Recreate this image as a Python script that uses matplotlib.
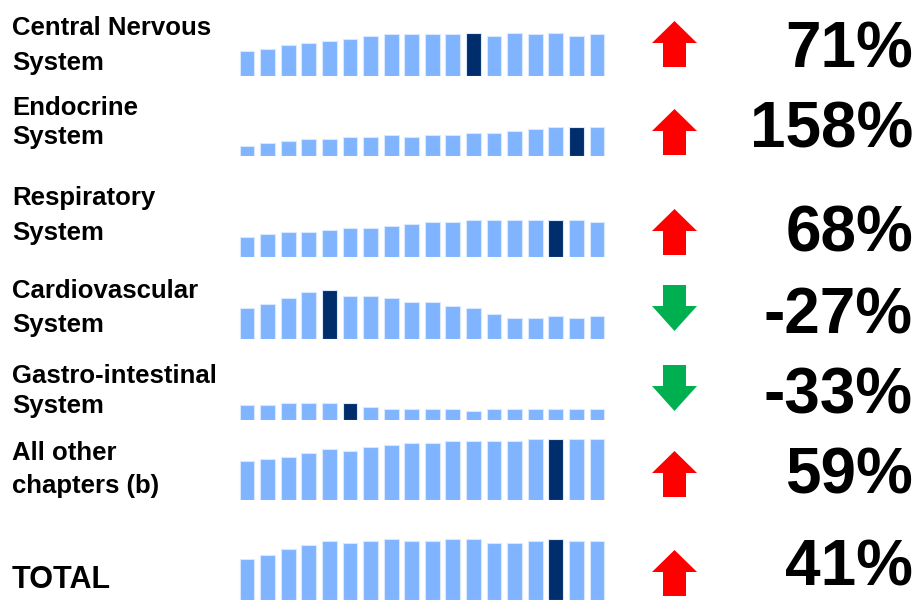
import matplotlib
matplotlib.use("Agg")
import matplotlib.pyplot as plt
import numpy as np
from matplotlib.patches import Polygon

plt.rcParams['font.family'] = ['Liberation Sans', 'DejaVu Sans']

# categories and results
categories = [["Central Nervous", "System"],
              ["Endocrine", "System"],
              ["Respiratory", "System"],
              ["Cardiovascular", "System"],
              ["Gastro-intestinal", "System"],
              ["All other", "chapters (b)"],
              ["TOTAL"]]
changes = [71, 158, 68, -27, -33, 59, 41]

# sparkline values (18 years each)
cns = [24.7, 26.7, 31, 32.7, 35, 37, 39.3, 41.3, 41.3, 41.3, 41.3, 43, 39.3, 43, 41.3, 43, 39.3, 41.3]
endocrine = [10.3, 12.7, 14.7, 17, 17, 18.7, 18.7, 20.7, 18.7, 20.7, 20.7, 22.7, 22.7, 24.7, 26.7, 28.7, 28.7, 28.7]
respiratory = [20, 22.3, 24.3, 24.3, 26.3, 28.3, 28.3, 30.3, 32.3, 34.3, 34.3, 36.3, 36.3, 36.3, 36.3, 36.3, 36.3, 34.3]
cardio = [30.3, 34.3, 40.3, 46.3, 48.3, 42.3, 42.3, 40.3, 36.3, 36.3, 32.3, 30.3, 24.3, 20.3, 20.3, 22.3, 20.3, 22.3]
gastro = [14.3, 14.3, 16.3, 16.3, 16.3, 16.3, 12.3, 10.3, 10.3, 10.3, 10.3, 8.3, 10.3, 10.3, 10.3, 10.3, 10.3, 10.3]
other = [38.3, 40.3, 42.3, 46.3, 50.3, 48.3, 52.3, 54.3, 56.3, 56.3, 58.7, 58.7, 58.7, 58.7, 60.7, 60.7, 60.7, 60.7]
total = [40.7, 44.7, 50.7, 54.7, 58.7, 56.7, 58.7, 60.7, 58.7, 58.7, 60.7, 60.7, 56.7, 56.7, 58.7, 60.7, 58.7, 58.7]
series = [cns, endocrine, respiratory, cardio, gastro, other, total]
highlight = [11, 16, 15, 4, 5, 15, 15]

# layout (pixels)
W, H = 917, 600
bar_base = [75.7, 156, 256.7, 338.7, 419.7, 499.7, 600]
label_base = [[35, 70], [115, 144], [205, 240], [298, 332], [383, 413], [460, 493], [588]]
pct_base = [68, 147, 252, 333, 413, 493, 586]
arrow_bot = [67, 155, 255, 331, 411, 497, 596]

light = '#80B4FF'
dark = '#002D6B'

fig = plt.figure(figsize=(W / 100, H / 100), dpi=100)

# overlay for text and arrows, in pixel units
ov = fig.add_axes([0, 0, 1, 1])
ov.set_xlim(0, W)
ov.set_ylim(H, 0)
ov.axis('off')

pitch = 350 / 17
ax_left = 247 - 0.5 * pitch
ax_w = 18 * pitch
sp_h = 70

for i, vals in enumerate(series):
    ax = fig.add_axes([ax_left / W, 1 - bar_base[i] / H, ax_w / W, sp_h / H])
    x = np.arange(len(vals))
    colors = [dark if j == highlight[i] else light for j in x]
    ax.bar(x, vals, width=0.72, color=colors, edgecolor='#D8E8FF', linewidth=0.8)
    ax.set_xlim(-0.5, len(vals) - 0.5)
    ax.set_ylim(0, sp_h)
    ax.axis('off')

    # labels
    size = 22 if len(categories[i]) == 1 else 18.5
    for line, yb in zip(categories[i], label_base[i]):
        ov.text(12, yb, line, fontsize=size, fontweight='bold', va='baseline', ha='left')

    # percent
    ov.text(913, pct_base[i], f"{changes[i]}%", fontsize=46, fontweight='bold',
            va='baseline', ha='right')

    # arrow
    cx = 674.5
    hw, sw, hh, L = 22.5, 11.5, 22, 46
    if changes[i] >= 0:
        b = arrow_bot[i]
        t = b - L
        pts = [(cx - sw, b), (cx - sw, t + hh), (cx - hw, t + hh), (cx, t),
               (cx + hw, t + hh), (cx + sw, t + hh), (cx + sw, b)]
        col = '#FF0000'
    else:
        tip = arrow_bot[i]
        t = tip - L
        pts = [(cx - sw, t), (cx - sw, tip - 25), (cx - hw, tip - 25), (cx, tip),
               (cx + hw, tip - 25), (cx + sw, tip - 25), (cx + sw, t)]
        col = '#00B050'
    ov.add_patch(Polygon(pts, closed=True, color=col, lw=0))

fig.savefig('out.png', dpi=100)
